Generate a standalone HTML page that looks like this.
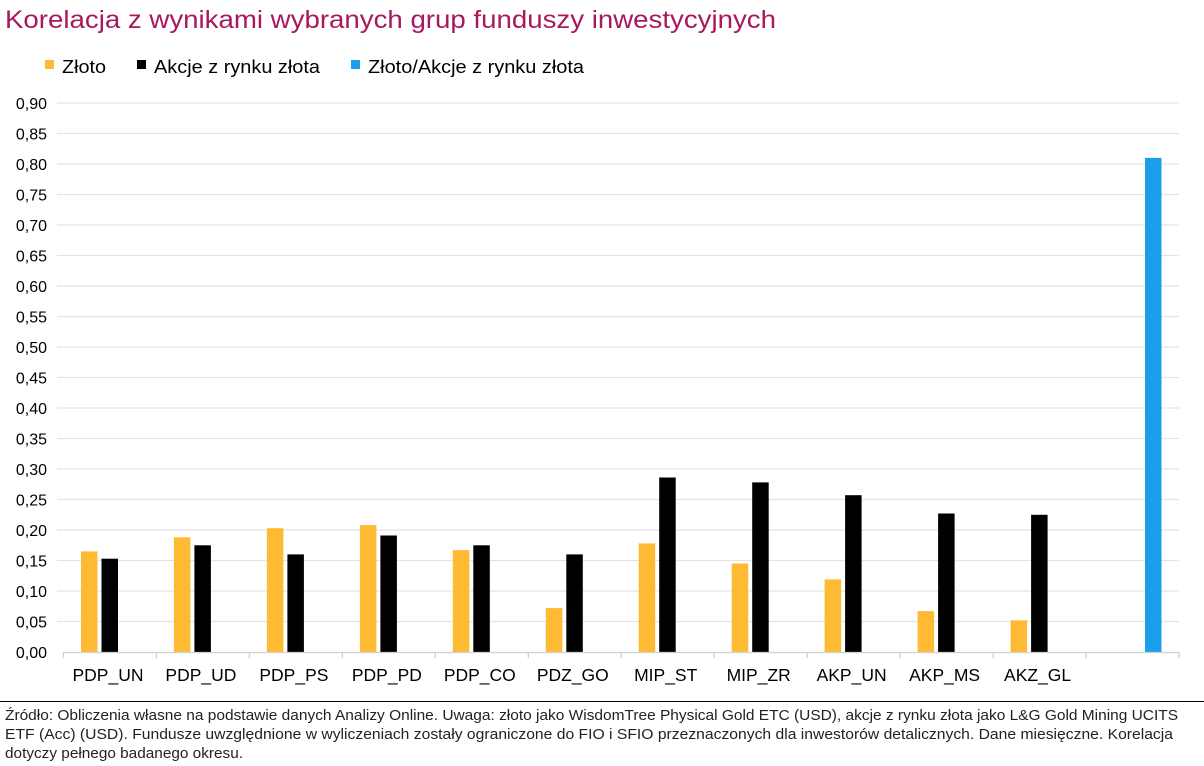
<!DOCTYPE html>
<html><head><meta charset="utf-8"><style>
html,body{margin:0;padding:0;background:#fff;}
svg{display:block;font-family:"Liberation Sans",Arial,sans-serif;}
</style></head><body>
<svg width="1204" height="766" viewBox="0 0 1204 766" xmlns="http://www.w3.org/2000/svg">
<text x="5" y="28" font-size="25" fill="#A8185E" textLength="771" lengthAdjust="spacingAndGlyphs">Korelacja z wynikami wybranych grup funduszy inwestycyjnych</text>
<rect x="45" y="60" width="9" height="9" fill="#FFBA33"/>
<text x="62" y="73" font-size="18" textLength="44" lengthAdjust="spacingAndGlyphs">Złoto</text>
<rect x="137" y="60" width="9" height="9" fill="#000"/>
<text x="154" y="73" font-size="18" textLength="166" lengthAdjust="spacingAndGlyphs">Akcje z rynku złota</text>
<rect x="351" y="60" width="9" height="9" fill="#1AA0E8"/>
<text x="368" y="73" font-size="18" textLength="216" lengthAdjust="spacingAndGlyphs">Złoto/Akcje z rynku złota</text>
<g id="grid" stroke="#E3E3E3" stroke-width="1.3"></g>
<g id="ylab" font-size="16" text-anchor="end"></g>
<g id="bars"></g>
<line x1="63" y1="652.5" x2="1179" y2="652.5" stroke="#D0D0D0" stroke-width="1.3"/>
<g id="ticks" stroke="#D0D0D0" stroke-width="1.3"></g>
<g id="xlab" font-size="17.5" text-anchor="middle"></g>
<line x1="0" y1="701.5" x2="1204" y2="701.5" stroke="#000" stroke-width="1"/>
<g font-size="15" fill="#222">
<text x="5" y="720" textLength="1173" lengthAdjust="spacingAndGlyphs">Źródło: Obliczenia własne na podstawie danych Analizy Online. Uwaga: złoto jako WisdomTree Physical Gold ETC (USD), akcje z rynku złota jako L&amp;G Gold Mining UCITS</text>
<text x="5" y="739" textLength="1168" lengthAdjust="spacingAndGlyphs">ETF (Acc) (USD). Fundusze uwzględnione w wyliczeniach zostały ograniczone do FIO i SFIO przeznaczonych dla inwestorów detalicznych. Dane miesięczne. Korelacja</text>
<text x="5" y="758" textLength="238" lengthAdjust="spacingAndGlyphs">dotyczy pełnego badanego okresu.</text>
</g>
<script>
var ns="http://www.w3.org/2000/svg";
function el(p,t,a,txt){var e=document.createElementNS(ns,t);for(var k in a)e.setAttribute(k,a[k]);if(txt)e.textContent=txt;document.getElementById(p).appendChild(e);}
var y0=652,ppu=(652-103)/0.9;
for(var i=1;i<=18;i++){var y=y0-i*0.05*ppu;el("grid","line",{x1:57,x2:1179,y1:y.toFixed(1),y2:y.toFixed(1)});}
for(var i=0;i<=18;i++){var y=y0-i*0.05*ppu;el("ylab","text",{x:47,y:(y+6).toFixed(1)},(i*0.05).toFixed(2).replace(".",","));}
var cats=["PDP_UN","PDP_UD","PDP_PS","PDP_PD","PDP_CO","PDZ_GO","MIP_ST","MIP_ZR","AKP_UN","AKP_MS","AKZ_GL",""];
var yv=[0.165,0.188,0.203,0.208,0.167,0.072,0.178,0.145,0.119,0.067,0.052];
var bv=[0.153,0.175,0.160,0.191,0.175,0.160,0.286,0.278,0.257,0.227,0.225];
var x0=63.5,st=(1179-63.5)/12;
for(var i=0;i<=12;i++){var x=x0+i*st;el("ticks","line",{x1:x,x2:x,y1:652,y2:658});}
for(var i=0;i<12;i++){var c=x0+(i+0.5)*st;
 if(cats[i])el("xlab","text",{x:(c-2).toFixed(1),y:681},cats[i]);
 if(i<11){var h=yv[i]*ppu;el("bars","rect",{x:(c-29).toFixed(1),y:(y0-h).toFixed(1),width:16.5,height:h.toFixed(1),fill:"#FFBA33"});
 h=bv[i]*ppu;el("bars","rect",{x:(c-8.5).toFixed(1),y:(y0-h).toFixed(1),width:16.5,height:h.toFixed(1),fill:"#000"});}
 else{var h=0.81*ppu;el("bars","rect",{x:1145,y:(y0-h).toFixed(1),width:16.5,height:h.toFixed(1),fill:"#1AA0E8"});}
}
</script>
</svg>
</body></html>
